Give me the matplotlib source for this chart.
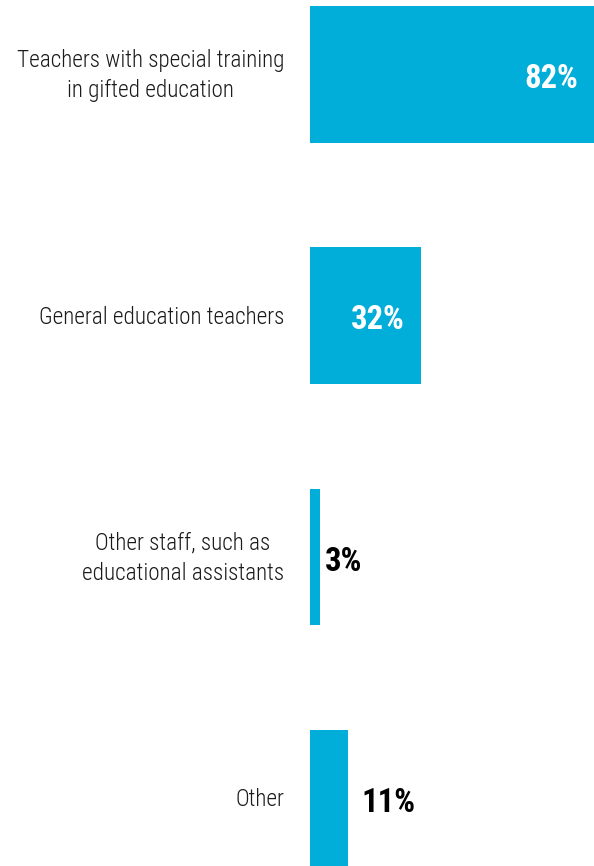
import matplotlib.pyplot as plt

categories = [
    'Teachers with special training\nin gifted education',
    'General education teachers',
    'Other staff, such as\neducational assistants',
    'Other',
]
values = [82, 32, 3, 11]
value_labels = ['82%', '32%', '3%', '11%']

bar_color = '#00aed9'
font = ['Roboto Condensed', 'Roboto', 'DejaVu Sans']

fig = plt.figure(figsize=(5.94, 8.66), dpi=100)
ax = fig.add_axes([310 / 594, 0, 1 - 310 / 594, 1])

ypos = list(range(len(values)))
ax.barh(ypos, values, height=0.567, color=bar_color)
ax.set_xlim(0, 82)
ax.set_ylim(3.28, -0.308)
ax.axis('off')

for y, v, cat, lab in zip(ypos, values, categories, value_labels):
    ax.annotate(cat, xy=(0, y), xytext=(-26, -1.5), textcoords='offset pixels',
                ha='right', va='center', multialignment='center',
                fontsize=16.7, fontweight='light', family=font,
                color='#1a1a1a', linespacing=1.4)
    if v > 20:
        ax.annotate(lab, xy=(v, y), xytext=(-16, -1), textcoords='offset pixels',
                    ha='right', va='center_baseline', fontsize=23.5,
                    fontweight='bold', family=font, color='white')
    else:
        ax.annotate(lab, xy=(v, y), xytext=(4 if v < 5 else 13, -1),
                    textcoords='offset pixels', ha='left', va='center_baseline',
                    fontsize=23.5, fontweight='bold', family=font, color='black')

fig.savefig('out.png', dpi=100)
